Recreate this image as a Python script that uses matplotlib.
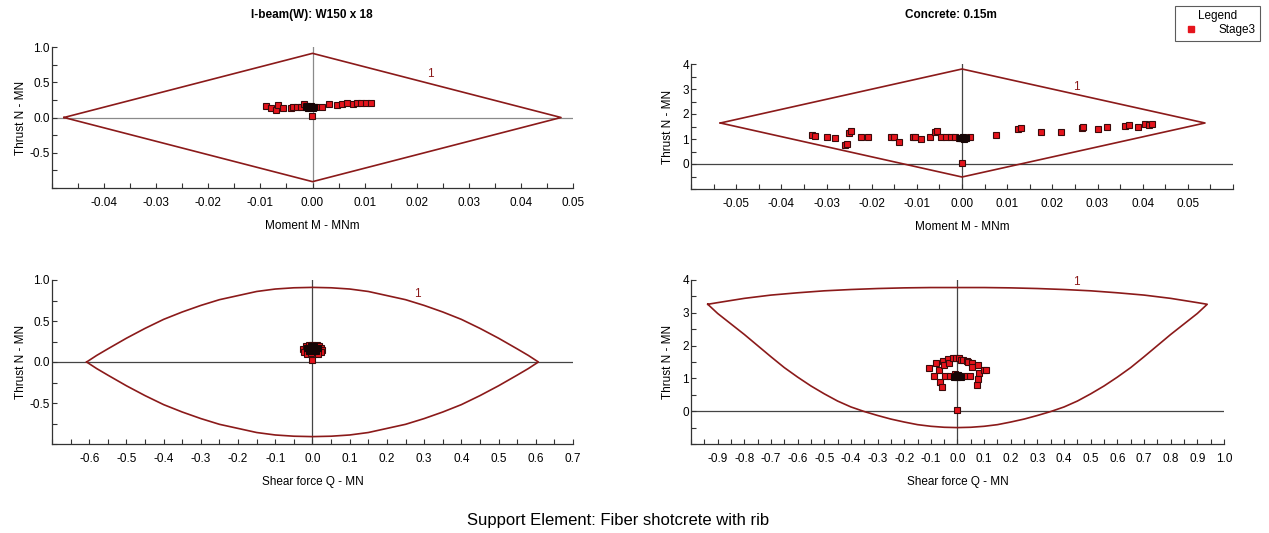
import matplotlib
matplotlib.use("Agg")
import matplotlib.pyplot as plt
from matplotlib.lines import Line2D
import numpy as np

plt.rcParams['font.family'] = ['Liberation Sans', 'DejaVu Sans']

# ---------------- data ----------------
# Top-left: I-beam, Moment vs Thrust
tl_env_m = [-0.0477, 0.0, 0.0477, 0.0, -0.0477]
tl_env_n = [0.0, 0.91, 0.0, -0.91, 0.0]
tl_m = [-0.0089, -0.0079, -0.0070, -0.0066, -0.0057, -0.0042, -0.0038, -0.0029, -0.0022,
        -0.0017, -0.0013, -0.0006, 0.0002, 0.0006, 0.0019, 0.0032, 0.0047, 0.0057, 0.0067,
        0.0077, 0.0085, 0.0094, 0.0102, 0.0112, -0.0001]
tl_n = [0.162, 0.138, 0.105, 0.176, 0.138, 0.138, 0.152, 0.143, 0.152, 0.186, 0.162, 0.152,
        0.152, 0.152, 0.152, 0.190, 0.176, 0.186, 0.200, 0.195, 0.200, 0.205, 0.205, 0.210, 0.019]
tl_dense_m = [-0.0012, -0.0008, -0.0004, 0.0000, 0.0003, -0.0010, -0.0002]
tl_dense_n = [0.150, 0.140, 0.150, 0.140, 0.145, 0.160, 0.158]

# Top-right: Concrete, Moment vs Thrust
tr_env_m = [-0.0535, 0.0, 0.0538, 0.0, -0.0535]
tr_env_n = [1.64, 3.80, 1.64, -0.52, 1.64]
tr_m = [-0.0333, -0.0326, -0.0298, -0.0281, -0.0260, -0.0254, -0.0250, -0.0246, -0.0224,
        -0.0209, -0.0158, -0.0150, -0.0139, -0.0108, -0.0103, -0.0091, -0.0071, -0.0060,
        -0.0056, -0.0046, -0.0035, -0.0024, -0.0015, -0.0006, 0.0000, 0.0007, 0.0018, 0.0000,
        0.0075, 0.0125, 0.0130, 0.0175, 0.0220, 0.0265, 0.0268, 0.0300, 0.0320, 0.0360,
        0.0370, 0.0390, 0.0405, 0.0415, 0.0420]
tr_n = [1.15, 1.11, 1.07, 1.04, 0.75, 0.80, 1.25, 1.31, 1.07, 1.07, 1.09, 1.09, 0.87, 1.09,
        1.07, 0.99, 1.09, 1.29, 1.33, 1.09, 1.09, 1.08, 1.07, 1.05, 1.03, 1.04, 1.07, 0.03,
        1.17, 1.40, 1.46, 1.28, 1.30, 1.45, 1.50, 1.40, 1.50, 1.52, 1.55, 1.50, 1.60, 1.58, 1.60]
tr_dense_m = [-0.0004, 0.0000, 0.0004, 0.0008, 0.0002]
tr_dense_n = [1.03, 1.05, 1.02, 1.05, 1.07]

# Bottom-left: I-beam, Shear vs Thrust (envelope half, mirrored about N=0)
bl_env_q = [-0.607, -0.58, -0.55, -0.5, -0.45, -0.4, -0.35, -0.3, -0.25, -0.2, -0.15, -0.1,
            -0.05, 0.0, 0.05, 0.1, 0.15, 0.2, 0.25, 0.3, 0.35, 0.4, 0.45, 0.5, 0.55, 0.58, 0.607]
bl_env_top = [0.0, 0.08, 0.16, 0.29, 0.41, 0.52, 0.61, 0.69, 0.76, 0.81, 0.86, 0.89,
              0.905, 0.91, 0.905, 0.89, 0.86, 0.81, 0.76, 0.69, 0.61, 0.52, 0.41, 0.29, 0.16,
              0.08, 0.0]
bl_env_bot = [-v for v in bl_env_top]
bl_q = [-0.025, -0.022, -0.018, -0.015, -0.010, -0.005, 0.000, 0.006, 0.012, 0.018,
        0.022, 0.026, 0.024, 0.015, 0.000]
bl_n = [0.16, 0.12, 0.19, 0.10, 0.21, 0.11, 0.21, 0.20, 0.21, 0.19, 0.17, 0.15, 0.12, 0.10, 0.02]
bl_dense_q = [-0.015, -0.008, 0.000, 0.008, 0.015, -0.010, 0.000, 0.010, -0.004, 0.004]
bl_dense_n = [0.17, 0.16, 0.17, 0.16, 0.17, 0.14, 0.14, 0.14, 0.19, 0.19]

# Bottom-right: Concrete, Shear vs Thrust
br_env_q_up = [-0.937, -0.9, -0.8, -0.7, -0.6, -0.5, -0.4, -0.3, -0.2, -0.1, 0.0,
               0.1, 0.2, 0.3, 0.4, 0.5, 0.6, 0.7, 0.8, 0.9, 0.937]
br_env_n_up = [3.26, 3.31, 3.44, 3.54, 3.61, 3.67, 3.71, 3.74, 3.76, 3.77, 3.77,
               3.77, 3.76, 3.74, 3.71, 3.67, 3.61, 3.54, 3.44, 3.31, 3.26]
br_env_q_lo = [0.937, 0.9, 0.85, 0.8, 0.75, 0.7, 0.65, 0.6, 0.55, 0.5, 0.45, 0.4, 0.35, 0.3,
               0.25, 0.2, 0.15, 0.1, 0.05, 0.0, -0.05, -0.1, -0.15, -0.2, -0.25, -0.3, -0.35,
               -0.4, -0.45, -0.5, -0.55, -0.6, -0.65, -0.7, -0.75, -0.8, -0.85, -0.9, -0.937]
br_env_n_lo = [3.26, 2.98, 2.66, 2.34, 2.00, 1.66, 1.33, 1.04, 0.77, 0.53, 0.31, 0.13, -0.01,
               -0.13, -0.24, -0.33, -0.41, -0.46, -0.49, -0.50, -0.49, -0.46, -0.41, -0.33,
               -0.24, -0.13, -0.01, 0.13, 0.31, 0.53, 0.77, 1.04, 1.33, 1.66, 2.00, 2.34, 2.66,
               2.98, 3.26]
br_q = [-0.106, -0.090, -0.079, -0.069, -0.065, -0.060, -0.056, -0.050, -0.037, -0.031,
        -0.016, -0.006, 0.004, 0.012, 0.019, 0.034, 0.041, 0.056, 0.056, 0.077, 0.081,
        0.076, 0.072, 0.100, 0.106, -0.047, -0.029, -0.009, 0.025, 0.046, 0.000]
br_n = [1.31, 1.06, 1.47, 1.27, 0.88, 0.73, 1.53, 1.41, 1.58, 1.48, 1.63, 1.63, 1.62, 1.57,
        1.55, 1.53, 1.50, 1.47, 1.35, 1.42, 1.17, 0.97, 0.79, 1.27, 1.27, 1.06, 1.08, 1.14,
        1.08, 1.06, 0.03]
br_dense_q = [-0.012, -0.006, 0.000, 0.006, 0.012, -0.003, 0.003]
br_dense_n = [1.05, 1.06, 1.05, 1.06, 1.05, 1.09, 1.09]

titles = ["I-beam(W): W150 x 18", "Concrete: 0.15m"]
footer = "Support Element: Fiber shotcrete with rib"

# ---------------- style ----------------
W, H = 1269, 533
fig = plt.figure(figsize=(W / 100, H / 100), dpi=100)

ENV = '#8b1a1a'
FS = 8.5

def px_axes(x0, x1, ytop, ybot):
    return fig.add_axes([x0 / W, 1 - ybot / H, (x1 - x0) / W, (ybot - ytop) / H])

def style(ax, xlim, ylim, xmaj, xmin, ymaj, ymin, xfmt, yfmt, xlabel, zcol, ylpad):
    ax.set_xlim(*xlim)
    ax.set_ylim(*ylim)
    for s in ['top', 'right']:
        ax.spines[s].set_visible(False)
    for s in ['left', 'bottom']:
        ax.spines[s].set_color('#333333')
        ax.spines[s].set_linewidth(0.9)
    ax.set_xticks(xmaj)
    ax.set_xticks(xmin, minor=True)
    ax.set_yticks(ymaj)
    ax.set_yticks(ymin, minor=True)
    ax.set_xticklabels([xfmt.format(v).replace("-0.0", "0.0") if abs(v) < 1e-9 else xfmt.format(v)
                        for v in xmaj])
    ax.set_yticklabels([yfmt.format(v) for v in ymaj])
    ax.tick_params(which='both', direction='in', length=3.5, width=0.8, color='#333333',
                   labelsize=FS)
    ax.tick_params(axis='x', which='both', pad=6.5)
    ax.tick_params(axis='y', which='both', pad=1.5)
    ax.set_xlabel(xlabel, fontsize=FS, labelpad=8)
    ax.set_ylabel("Thrust N - MN", fontsize=FS, labelpad=ylpad)
    ax.axhline(0, color=zcol, lw=0.9, zorder=1)
    ax.axvline(0, color=zcol, lw=0.9, zorder=1)
    ax.patch.set_alpha(0)

def pts(ax, x, y, dx, dy):
    ax.plot(x, y, ls='none', marker='s', ms=5, mfc='#e5141c', mec='#3a0a0a', mew=0.8, zorder=3)
    ax.plot(dx, dy, ls='none', marker='s', ms=5, mfc='#150505', mec='#150505', mew=0.8, zorder=4)

# Top-left
ax1 = px_axes(52, 573, 47, 188)
style(ax1, (-0.05, 0.05), (-1.0, 1.0),
      [-0.04, -0.03, -0.02, -0.01, 0, 0.01, 0.02, 0.03, 0.04, 0.05],
      list(np.arange(-0.05, 0.0501, 0.005)),
      [-0.5, 0, 0.5, 1.0], [-1.0, -0.75, -0.25, 0.25, 0.75],
      "{:.2f}", "{:.1f}", "Moment M - MNm", '#8a8a8a', 2)
ax1.plot(tl_env_m, tl_env_n, color=ENV, lw=1.2, zorder=2)
pts(ax1, tl_m, tl_n, tl_dense_m, tl_dense_n)
ax1.text(0.0226, 0.61, "1", color=ENV, fontsize=FS, ha='center', va='center')

# Top-right
ax2 = px_axes(691, 1233, 64, 189)
style(ax2, (-0.06, 0.06), (-1, 4),
      [-0.05, -0.04, -0.03, -0.02, -0.01, 0, 0.01, 0.02, 0.03, 0.04, 0.05],
      list(np.arange(-0.06, 0.0601, 0.005)),
      [0, 1, 2, 3, 4], [-1, -0.5, 0.5, 1.5, 2.5, 3.5],
      "{:.2f}", "{:d}", "Moment M - MNm", '#444444', 6)
ax2.plot(tr_env_m, tr_env_n, color=ENV, lw=1.2, zorder=2)
pts(ax2, tr_m, tr_n, tr_dense_m, tr_dense_n)
ax2.text(0.0254, 3.08, "1", color=ENV, fontsize=FS, ha='center', va='center')

# Bottom-left
ax3 = px_axes(52, 573, 280, 444)
style(ax3, (-0.7, 0.7), (-1.0, 1.0),
      [-0.6, -0.5, -0.4, -0.3, -0.2, -0.1, 0, 0.1, 0.2, 0.3, 0.4, 0.5, 0.6, 0.7],
      list(np.arange(-0.7, 0.701, 0.05)),
      [-0.5, 0, 0.5, 1.0], [-1.0, -0.75, -0.25, 0.25, 0.75],
      "{:.1f}", "{:.1f}", "Shear force Q - MN", '#444444', 2)
ax3.plot(bl_env_q + bl_env_q[::-1], bl_env_top + bl_env_bot[::-1], color=ENV, lw=1.2, zorder=2)
pts(ax3, bl_q, bl_n, bl_dense_q, bl_dense_n)
ax3.text(0.282, 0.83, "1", color=ENV, fontsize=FS, ha='center', va='center')

# Bottom-right
ax4 = px_axes(691, 1224, 280, 444)
style(ax4, (-1.0, 1.0), (-1, 4),
      [round(v, 1) for v in np.arange(-0.9, 1.01, 0.1)],
      list(np.arange(-1.0, 1.001, 0.05)),
      [0, 1, 2, 3, 4], [-1, -0.5, 0.5, 1.5, 2.5, 3.5],
      "{:.1f}", "{:d}", "Shear force Q - MN", '#444444', 6)
ax4.plot(br_env_q_up + br_env_q_lo, br_env_n_up + br_env_n_lo, color=ENV, lw=1.2, zorder=2)
pts(ax4, br_q, br_n, br_dense_q, br_dense_n)
ax4.text(0.446, 3.94, "1", color=ENV, fontsize=FS, ha='center', va='center')

# Titles
fig.text(312 / W, 1 - 15 / H, titles[0], fontsize=FS, fontweight='bold', ha='center', va='center')
fig.text(951 / W, 1 - 15 / H, titles[1], fontsize=FS, fontweight='bold', ha='center', va='center')
fig.text(618 / W, 1 - 521 / H, footer, fontsize=12, ha='center', va='center')

# Legend
handle = Line2D([], [], ls='none', marker='s', ms=4.5, mfc='#e5141c', mec='#e5141c')
leg = fig.legend([handle], ["Stage3"], title="Legend", loc='upper right',
                 bbox_to_anchor=(1260 / W, 1 - 6 / H), fontsize=FS, title_fontsize=FS,
                 frameon=True, fancybox=False, edgecolor='#333333', handlelength=2.0,
                 handletextpad=1.4, borderpad=0.35, labelspacing=0.2, borderaxespad=0)
leg.get_frame().set_linewidth(0.8)

fig.savefig("out.png", dpi=100)
